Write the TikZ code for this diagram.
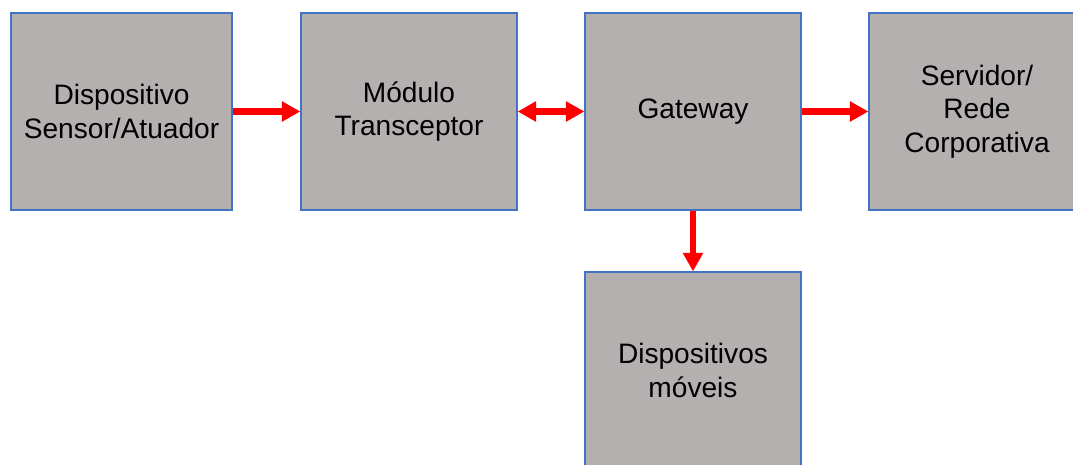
\documentclass[tikz,border=0pt]{standalone}
\usepackage{fontspec}
\setmainfont{Liberation Sans}
\usetikzlibrary{arrows.meta}
\tikzset{
  bloco/.style={draw=borda, line width=0.9pt, fill=caixa,
    minimum width=5.4cm, minimum height=4.925cm, align=center, inner sep=0pt,
    font=\fontsize{20}{24}\selectfont},
  seta/.style={draw=red, line width=4.3pt, -{Triangle[length=0.46cm,width=0.48cm]}},
  setadupla/.style={draw=red, line width=4.3pt, {Triangle[length=0.46cm,width=0.48cm]}-{Triangle[length=0.46cm,width=0.48cm]}}
}
\definecolor{caixa}{RGB}{179,176,175}
\definecolor{borda}{RGB}{68,114,196}
\begin{document}
\begin{tikzpicture}
    \useasboundingbox (0,0) rectangle (26.825,11.6);
    \clip (0,0) rectangle (26.825,11.6);
    \node[bloco, minimum width=5.525cm] (dev) at (3.0375,8.8125) {Dispositivo\\Sensor/Atuador};
    \node[bloco] (mod) at (10.225,8.8125) {Módulo\\Transceptor};
    \node[bloco] (gw) at (17.325,8.8125) {Gateway};
    \node[bloco] (srv) at (24.425,8.8125) {Servidor/\\Rede\\Corporativa};
    \node[bloco] (mob) at (17.325,2.3375) {Dispositivos\\móveis};
    \draw[seta] (dev.east) -- (mod.west);
    \draw[setadupla] (mod.east) -- (gw.west);
    \draw[seta] (gw.east) -- (srv.west);
    \draw[seta] (gw.south) -- (mob.north);
\end{tikzpicture}
\end{document}
